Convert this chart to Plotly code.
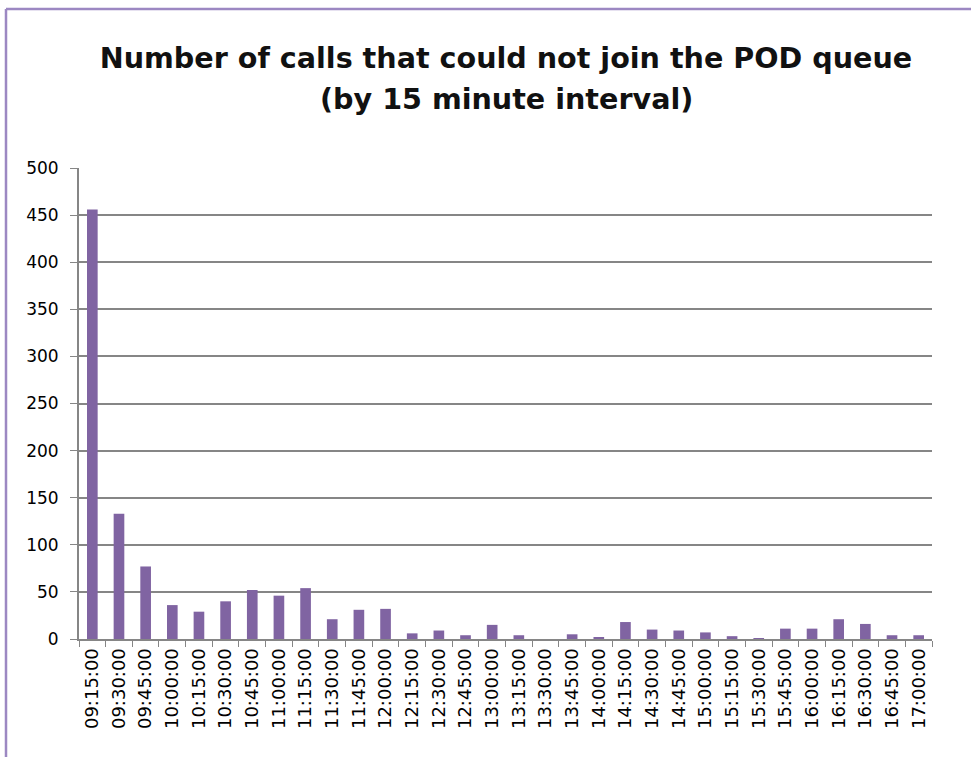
import plotly.graph_objects as go

categories = ["09:15:00", "09:30:00", "09:45:00", "10:00:00", "10:15:00", "10:30:00",
              "10:45:00", "11:00:00", "11:15:00", "11:30:00", "11:45:00", "12:00:00",
              "12:15:00", "12:30:00", "12:45:00", "13:00:00", "13:15:00", "13:30:00",
              "13:45:00", "14:00:00", "14:15:00", "14:30:00", "14:45:00", "15:00:00",
              "15:15:00", "15:30:00", "15:45:00", "16:00:00", "16:15:00", "16:30:00",
              "16:45:00", "17:00:00"]
calls = [456, 133, 77, 36, 29, 40, 52, 46, 54, 21, 31, 32,
         6, 9, 4, 15, 4, 0, 5, 2, 18, 10, 9, 7,
         3, 1, 11, 11, 21, 16, 4, 4]
y_ticks = [0, 50, 100, 150, 200, 250, 300, 350, 400, 450, 500]
title_line1 = "Number of calls that could not join the POD queue"
title_line2 = "(by 15 minute interval)"

fig = go.Figure(go.Bar(x=categories, y=calls, marker=dict(color="#8064A2", line=dict(width=0)),
                       width=0.4))

L, R, T, B = 79, 932, 168, 639
W, H = 971, 757
pw, ph = R - L, B - T
title_font = dict(family="DejaVu Sans", size=28.6, color="#111111")

fig.update_layout(
    width=W, height=H,
    paper_bgcolor="white", plot_bgcolor="white",
    margin=dict(l=L, r=W - R, t=T, b=H - B, pad=0),
    showlegend=False,
    title=dict(text="<b>" + title_line1 + "</b>",
               x=506 / W, xanchor="center", y=1 - 58 / H, yanchor="middle", font=title_font),
    annotations=[
        dict(text="<b>" + title_line2 + "</b>", xref="paper", yref="paper",
             x=(506 - L) / pw, y=(B - 99) / ph, xanchor="center", yanchor="middle",
             showarrow=False, font=title_font),
    ],
    xaxis=dict(type="category", tickangle=-90, tickson="boundaries", ticks="outside",
               ticklen=6, tickcolor="#868686", showline=True, linecolor="#868686", linewidth=2,
               showgrid=False, tickfont=dict(family="DejaVu Sans", size=18, color="#000000")),
    yaxis=dict(range=[0, 500], tickvals=y_ticks, ticks="outside", ticklen=7, tickcolor="#868686",
               showline=True, linecolor="#868686", linewidth=2, showgrid=True,
               gridcolor="#868686", gridwidth=1.5, zeroline=False, ticklabelstandoff=8,
               tickfont=dict(family="DejaVu Sans", size=17, color="#000000")),
    shapes=[
        dict(type="line", xref="paper", yref="paper", x0=(6 - L) / pw, x1=(W + 20 - L) / pw,
             y0=(B - 9) / ph, y1=(B - 9) / ph, line=dict(color="#9C88C2", width=2.5)),
        dict(type="line", xref="paper", yref="paper", x0=(6 - L) / pw, x1=(6 - L) / pw,
             y0=(B - 9) / ph, y1=(B - H - 20) / ph, line=dict(color="#9C88C2", width=2.5)),
    ],
)

fig.write_html("out.html", config={"displayModeBar": False},
               post_script="document.body.style.margin='0px';document.body.style.overflow='hidden';")
